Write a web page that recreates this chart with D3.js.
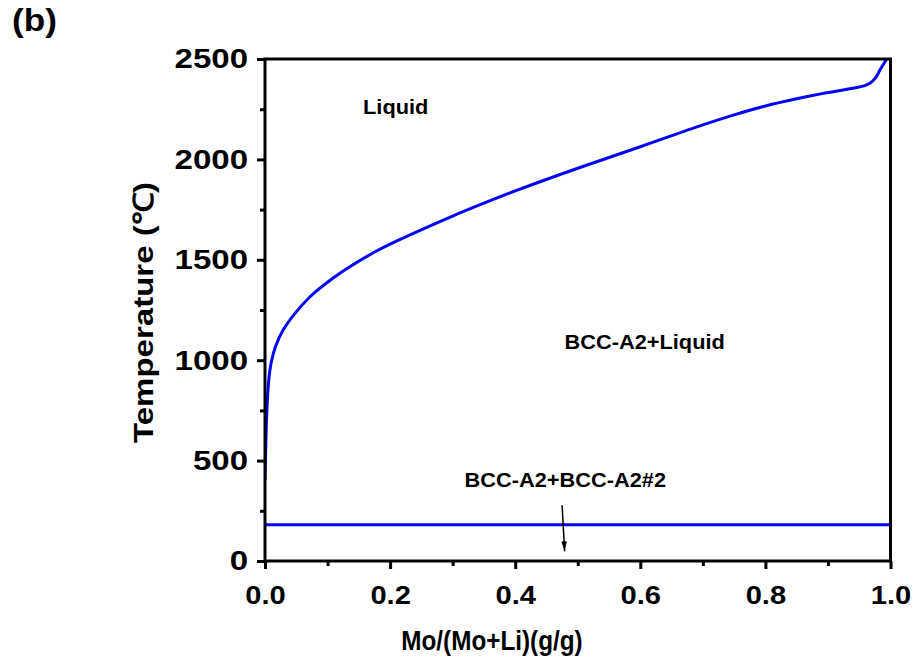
<!DOCTYPE html>
<html><head><meta charset="utf-8">
<script src="https://cdn.jsdelivr.net/npm/d3@7"></script>
<style>body{margin:0;background:#fff}svg{display:block}text{font-family:"Liberation Sans",Arial,sans-serif;font-weight:bold}</style>
</head><body>
<svg id="c" width="919" height="665"></svg>
<script>
const liquidusX = [0, 0.0015, 0.003, 0.006, 0.01, 0.017, 0.029, 0.048, 0.072, 0.0906, 0.128, 0.176, 0.224, 0.3, 0.35, 0.4, 0.5, 0.6, 0.7, 0.75, 0.8, 0.85, 0.9, 0.946, 0.96, 0.967, 0.973, 0.978, 0.983, 0.989, 0.994];
const liquidusT = [403, 600, 750, 901, 990, 1070, 1150, 1233, 1316, 1366, 1450, 1540, 1613, 1718, 1782, 1843, 1956, 2063, 2172, 2222, 2266, 2302, 2333, 2358, 2369, 2379, 2395, 2415, 2445, 2475, 2500];
const eutecticX = [0, 1];
const eutecticT = [180, 180];
const xTicks = [0, 0.2, 0.4, 0.6, 0.8, 1.0];
const xMinor = [0.1, 0.3, 0.5, 0.7, 0.9];
const yTicks = [0, 500, 1000, 1500, 2000, 2500];
const yMinor = [250, 750, 1250, 1750, 2250];
const regionLabels = [
  {text: "Liquid", x: 0.209, t: 2226},
  {text: "BCC-A2+Liquid", x: 0.607, t: 1056},
  {text: "BCC-A2+BCC-A2#2", x: 0.48, t: 368}
];
const arrowFrom = {x: 0.475, t: 278};
const arrowTo = {x: 0.479, t: 48};

const svg = d3.select("#c");
const L = 265, R = 890.5, T = 59, B = 561;
const x = d3.scaleLinear().domain([0, 1]).range([L, R]);
const y = d3.scaleLinear().domain([0, 2500]).range([B, T]);

function stretch(sel, k) {
  sel.each(function () {
    const t = d3.select(this);
    const ax = +t.attr("x") || 0;
    t.attr("transform", `translate(${ax},0) scale(${k},1) translate(${-ax},0)`);
  });
}

const defs = svg.append("defs");
defs.append("clipPath").attr("id", "clip").append("rect")
  .attr("x", L).attr("y", T).attr("width", R - L).attr("height", B - T);
defs.append("marker").attr("id", "arr").attr("viewBox", "0 0 10 10")
  .attr("refX", 10).attr("refY", 5).attr("markerWidth", 10).attr("markerHeight", 10)
  .attr("markerUnits", "userSpaceOnUse").attr("orient", "auto")
  .append("path").attr("d", "M0,2.2 L10,5 L0,7.8 Z").attr("fill", "#000");

const g = svg.append("g").attr("clip-path", "url(#clip)");
const line = d3.line().x(d => x(d[0])).y(d => y(d[1])).curve(d3.curveCatmullRom.alpha(0.5));
g.append("path").datum(liquidusX.map((v, i) => [v, liquidusT[i]]))
  .attr("d", line).attr("fill", "none").attr("stroke", "#0505f5").attr("stroke-width", 3);
g.append("path").datum(eutecticX.map((v, i) => [v, eutecticT[i]]))
  .attr("d", d3.line().x(d => x(d[0])).y(d => y(d[1]))).attr("fill", "none").attr("stroke", "#0505f5").attr("stroke-width", 3);

// frame
svg.append("rect").attr("x", L).attr("y", T).attr("width", R - L).attr("height", B - T)
  .attr("fill", "none").attr("stroke", "#000").attr("stroke-width", 3);

// axes
const xAxis = svg.append("g").attr("transform", `translate(0,${B})`)
  .call(d3.axisBottom(x).tickValues(xTicks).tickFormat(d3.format(".1f")).tickSize(8));
const xAxisMinor = svg.append("g").attr("transform", `translate(0,${B})`)
  .call(d3.axisBottom(x).tickValues(xMinor).tickFormat("").tickSize(5));
const yAxis = svg.append("g").attr("transform", `translate(${L},0)`)
  .call(d3.axisLeft(y).tickValues(yTicks).tickFormat(d3.format("d")).tickSize(8).tickPadding(9));
const yAxisMinor = svg.append("g").attr("transform", `translate(${L},0)`)
  .call(d3.axisLeft(y).tickValues(yMinor).tickFormat("").tickSize(5));
[xAxis, xAxisMinor, yAxis, yAxisMinor].forEach(a => {
  a.select(".domain").remove();
  a.selectAll("line").attr("stroke", "#000").attr("stroke-width", 3);
  a.selectAll("text").attr("fill", "#000").style("font-family", "'Liberation Sans', Arial, sans-serif").style("font-weight", "bold");
});
xAxis.selectAll("text").style("font-size", "26px").attr("y", 43).attr("dy", 0);
stretch(xAxis.selectAll("text"), 1.12);
yAxis.selectAll("text").style("font-size", "28px");
stretch(yAxis.selectAll("text"), 1.18);

// labels
const xt = svg.append("text").attr("x", 492).attr("y", 650).attr("text-anchor", "middle")
  .style("font-size", "27px").text("Mo/(Mo+Li)(g/g)");
stretch(xt, 0.9);
svg.append("text").attr("transform", "translate(153,312.5) rotate(-90) scale(1.18,1)").attr("text-anchor", "middle")
  .style("font-size", "28px").text("Temperature (℃)");
const bt = svg.append("text").attr("x", 12).attr("y", 31).style("font-size", "32px").text("(b)");
stretch(bt, 1.1);

regionLabels.forEach(d => {
  const t = svg.append("text").attr("x", x(d.x)).attr("y", y(d.t)).attr("text-anchor", "middle")
    .style("font-size", "20px").text(d.text);
  stretch(t, 1.09);
});
svg.append("line").attr("x1", x(arrowFrom.x)).attr("y1", y(arrowFrom.t))
  .attr("x2", x(arrowTo.x)).attr("y2", y(arrowTo.t))
  .attr("stroke", "#000").attr("stroke-width", 1.5).attr("marker-end", "url(#arr)");
</script>
</body></html>
